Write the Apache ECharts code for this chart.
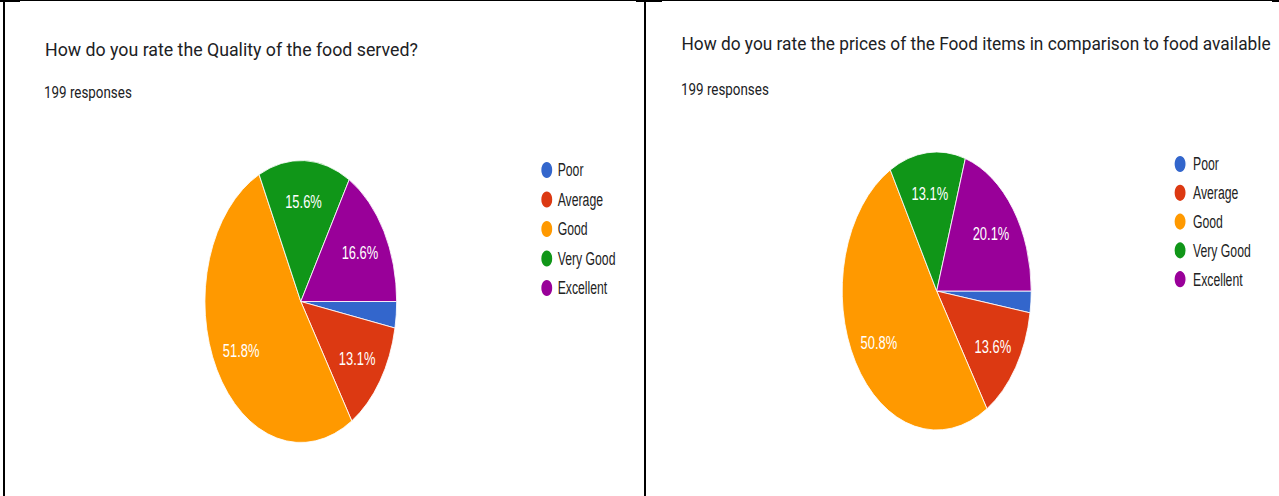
<!DOCTYPE html>
<html>
<head>
<meta charset="utf-8">
<script src="https://cdn.jsdelivr.net/npm/echarts@6/dist/echarts.min.js"></script>
<style>
  html, body { margin: 0; padding: 0; background: #fff; overflow: hidden; }
  #wrap { position: relative; width: 1279px; height: 496px; overflow: hidden; background: #fff; }
  #c { position: absolute; left: 0; top: 0; width: 1881px; height: 496px; transform: scaleX(0.68); transform-origin: 0 0; }
  .ln { position: absolute; background: #000; }
</style>
</head>
<body>
<div id="wrap">
  <div id="c"></div>
  <div class="ln" style="left:0;top:0;width:1279px;height:1px;"></div>
  <div class="ln" style="left:0;top:0;width:20px;height:2px;"></div>
  <div class="ln" style="left:636px;top:0;width:26px;height:2px;"></div>
  <div class="ln" style="left:1272px;top:0;width:7px;height:2px;"></div>
  <div class="ln" style="left:3px;top:0;width:2px;height:496px;"></div>
  <div class="ln" style="left:644px;top:0;width:2px;height:496px;"></div>
</div>
<script>
// ---- data ----
const categories = ['Poor', 'Average', 'Good', 'Very Good', 'Excellent'];
const colors = ['#3366cc', '#dc3912', '#ff9900', '#109618', '#990099'];
const qualityCounts = [6, 26, 103, 31, 33];
const priceCounts = [5, 27, 101, 26, 40];
const titleLeft = 'How do you rate the Quality of the food served?';
const titleRight = 'How do you rate the prices of the Food items in comparison to food available';
const subtitleLeft = '199 responses';
const subtitleRight = '199 responses';

// ---- layout (horizontal compression of the whole picture) ----
const S = 0.68;
const ux = x => x / S;

function sum(a) { return a.reduce((s, v) => s + v, 0); }
function items(counts) {
  return categories.map((n, i) => ({ name: n, value: counts[i], itemStyle: { color: colors[i] } }));
}
function pieSeries(counts, cx, cy, r) {
  const total = sum(counts);
  return [
    {
      type: 'pie', center: [ux(cx), cy], radius: [0, r], startAngle: 0, clockwise: true,
      label: { show: false }, labelLine: { show: false },
      itemStyle: { borderColor: '#fff', borderWidth: 1 },
      emphasis: { disabled: true }, silent: true,
      data: items(counts)
    },
    {
      type: 'pie', center: [ux(cx), cy], radius: [r * 0.38, r], startAngle: 0, clockwise: true,
      minShowLabelAngle: 20,
      itemStyle: { color: 'rgba(0,0,0,0)', borderWidth: 0 },
      label: {
        show: true, position: 'inside', color: '#fff',
        fontFamily: 'Liberation Sans', fontSize: 19,
        formatter: p => (p.value / total * 100).toFixed(1) + '%'
      },
      labelLine: { show: false }, emphasis: { disabled: true }, silent: true,
      data: categories.map((n, i) => ({ name: n, value: counts[i] }))
    }
  ];
}
function legend(markerCenterX, top, gap, pad) {
  return {
    orient: 'vertical', left: ux(markerCenterX) - 9, top: top,
    icon: 'circle', itemWidth: 18, itemHeight: 18, itemGap: gap,
    selectedMode: false,
    textStyle: { fontFamily: 'Liberation Sans', fontSize: 18, color: '#222', lineHeight: 18, padding: [0, 0, 0, pad] },
    data: categories
  };
}
function txt(text, x, y, size, effScale) {
  return {
    type: 'text', x: ux(x), y: y, scaleX: effScale / S, silent: true,
    style: { text: text, font: size + 'px Roboto', fill: '#202124', verticalAlign: 'middle', textAlign: 'left' }
  };
}

const chart = echarts.init(document.getElementById('c'), null, { renderer: 'svg' });
chart.setOption({
  animation: false,
  backgroundColor: 'transparent',
  legend: [legend(542.7, 155, 9.5, 2), legend(1176, 149, 8.8, 5)],
  graphic: [
    txt(titleLeft, 45, 49, 19, 0.935),
    txt(subtitleLeft, 44, 92, 17, 0.788),
    txt(titleRight, 681.5, 43.4, 19, 0.91),
    txt(subtitleRight, 681, 89.2, 17, 0.788)
  ],
  series: [].concat(pieSeries(qualityCounts, 300.8, 301.5, 141), pieSeries(priceCounts, 936.7, 291, 139))
});
</script>
</body>
</html>
